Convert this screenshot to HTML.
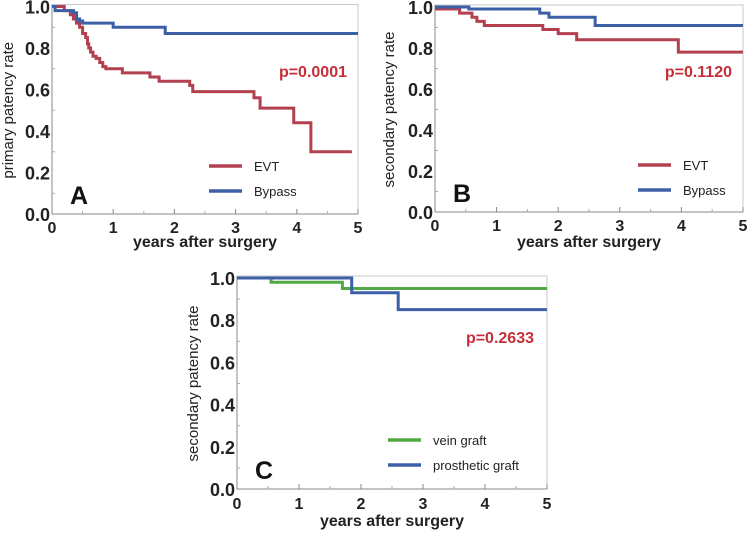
<!DOCTYPE html>
<html><head><meta charset="utf-8"><style>
body{margin:0;background:#fff;}
svg{display:block;font-family:"Liberation Sans",Arial,sans-serif;}
</style></head><body>
<svg id="s" width="750" height="534" viewBox="0 0 750 534"></svg>
<script>
const xTicks=[0,1,2,3,4,5];
const yTicks=[0,0.2,0.4,0.6,0.8,1.0];
const yTickLabels=["0.0","0.2","0.4","0.6","0.8","1.0"];
// Panel A
const aEvtT=[0,0.2,0.3,0.35,0.4,0.45,0.5,0.55,0.58,0.6,0.63,0.67,0.72,0.78,0.83,0.88,1.15,1.6,1.75,2.25,2.3,3.3,3.4,3.95,4.23,4.9];
const aEvtS=[1.0,0.98,0.96,0.94,0.92,0.90,0.87,0.85,0.82,0.80,0.78,0.76,0.75,0.73,0.71,0.70,0.68,0.66,0.64,0.62,0.59,0.56,0.51,0.44,0.30,0.30];
const aBypT=[0,0.05,0.35,0.4,0.45,0.5,1.0,1.85,5];
const aBypS=[1.0,0.98,0.97,0.94,0.93,0.92,0.90,0.87,0.87];
// Panel B
const bEvtT=[0,0.03,0.4,0.6,0.68,0.8,1.75,2.0,2.3,3.95,5];
const bEvtS=[1.0,0.99,0.97,0.95,0.93,0.91,0.89,0.87,0.84,0.78,0.78];
const bBypT=[0,0.55,1.7,1.85,2.6,5];
const bBypS=[1.0,0.99,0.97,0.95,0.91,0.91];
// Panel C
const cVeinT=[0,0.55,1.7,5];
const cVeinS=[1.0,0.98,0.95,0.95];
const cProT=[0,1.85,2.6,5];
const cProS=[1.0,0.93,0.85,0.85];

const RED="#b2404e",BLUE="#3d5fa8",GREEN="#52a844";
const NS="http://www.w3.org/2000/svg";
const svg=document.getElementById('s');
function el(tag,attrs,parent){const e=document.createElementNS(NS,tag);for(const k in attrs)e.setAttribute(k,attrs[k]);(parent||svg).appendChild(e);return e;}

function panel(cfg){
  const g=el('g',{});
  
  
  const sx=t=>cfg.x0+(cfg.x1-cfg.x0)*t/5;
  const sy=v=>cfg.y0+(cfg.y1-cfg.y0)*v;
  const box=el('rect',{x:cfg.x0,y:sy(1)-2,width:cfg.x1-cfg.x0,height:cfg.y0-sy(1)+2,fill:'none',stroke:'#c8c8c8','stroke-width':1},g);
  
  
  el('line',{x1:cfg.x0,y1:sy(1)-2,x2:cfg.x0,y2:cfg.y0,stroke:'#888','stroke-width':1},g);
  el('line',{x1:cfg.x0,y1:cfg.y0,x2:cfg.x1,y2:cfg.y0,stroke:'#888','stroke-width':1},g);
  yTicks.forEach((v,i)=>{
    const t=el('text',{x:cfg.x0-2,y:sy(v)+7,'text-anchor':'end','font-size':18,'font-weight':'bold',fill:'#222'},g);
    t.textContent=yTickLabels[i];
    
    
    if(i<5) el('line',{x1:cfg.x0,y1:sy(v+0.1),x2:cfg.x0+3,y2:sy(v+0.1),stroke:'#aaa'},g);
  });
  xTicks.forEach(v=>{
    el('line',{x1:sx(v),y1:cfg.y0,x2:sx(v),y2:cfg.y0-5,stroke:'#888'},g);
    if(v<5) el('line',{x1:sx(v+0.5),y1:cfg.y0,x2:sx(v+0.5),y2:cfg.y0-3,stroke:'#aaa'},g);
    const t=el('text',{x:sx(v),y:cfg.y0+cfg.xtk,'text-anchor':'middle','font-size':16,'font-weight':'bold',fill:'#222'},g);
    t.textContent=v;
    
    
  });
  const xt=el('text',{x:(cfg.x0+cfg.x1)/2,y:cfg.y0+cfg.xto,'text-anchor':'middle','font-size':16,'font-weight':'bold',fill:'#222'},g);
  xt.textContent='years after surgery';
  
  
  const yc=(sy(1)+cfg.y0)/2;
  const yt=el('text',{x:cfg.ylx,y:yc,'text-anchor':'middle','font-size':15,fill:'#222',transform:`rotate(-90 ${cfg.ylx} ${yc})`},g);
  yt.textContent=cfg.ylabel;
  
  
  cfg.series.forEach(s=>{
    let d=`M${sx(s.t[0])},${sy(s.s[0])}`;
    for(let i=1;i<s.t.length;i++){d+=`H${sx(s.t[i])}V${sy(s.s[i])}`;}
    const p=el('path',{d:d,fill:'none',stroke:s.color,'stroke-width':3},g);
    
    
  });
  cfg.series.forEach((s,i)=>{
    const ly=cfg.legY+i*25;
    const l=el('line',{x1:cfg.legX,y1:ly,x2:cfg.legX+33,y2:ly,stroke:s.color,'stroke-width':3.5},g);
    
    
    const t=el('text',{x:cfg.legX+45,y:ly+5,'font-size':13,fill:'#222'},g);
    t.textContent=s.label;
    
    
  });
  const pv=el('text',{x:cfg.px,y:cfg.py,'text-anchor':'end','font-size':16,'font-weight':'bold',fill:'#c62f3a'},g);
  pv.textContent=cfg.p;
  
  
  const pl=el('text',{x:cfg.x0+18,y:cfg.y0-10,'font-size':25,'font-weight':'bold',fill:'#111'},g);
  pl.textContent=cfg.letter;
  
  
}
panel({name:'panel-a',x0:52,x1:358,y0:214,y1:6.5,ylx:13,xtk:19,xto:33,ylabel:'primary patency rate',letter:'A',p:'p=0.0001',px:347,py:77,legX:209,legY:166,
  series:[{id:'evt-curve',t:aEvtT,s:aEvtS,color:RED,label:'EVT'},{id:'bypass-curve',t:aBypT,s:aBypS,color:BLUE,label:'Bypass'}]});
panel({name:'panel-b',x0:435,x1:743,y0:212,y1:7,ylx:394,xtk:19,xto:35,ylabel:'secondary patency rate',letter:'B',p:'p=0.1120',px:732,py:77,legX:638,legY:165,
  series:[{id:'evt-curve',t:bEvtT,s:bEvtS,color:RED,label:'EVT'},{id:'bypass-curve',t:bBypT,s:bBypS,color:BLUE,label:'Bypass'}]});
panel({name:'panel-c',x0:237,x1:547,y0:489,y1:278,ylx:198,xtk:20,xto:37,ylabel:'secondary patency rate',letter:'C',p:'p=0.2633',px:534,py:343,legX:388,legY:440,
  series:[{id:'vein-graft-curve',t:cVeinT,s:cVeinS,color:GREEN,label:'vein graft'},{id:'prosthetic-graft-curve',t:cProT,s:cProS,color:BLUE,label:'prosthetic graft'}]});
</script>
</body></html>
